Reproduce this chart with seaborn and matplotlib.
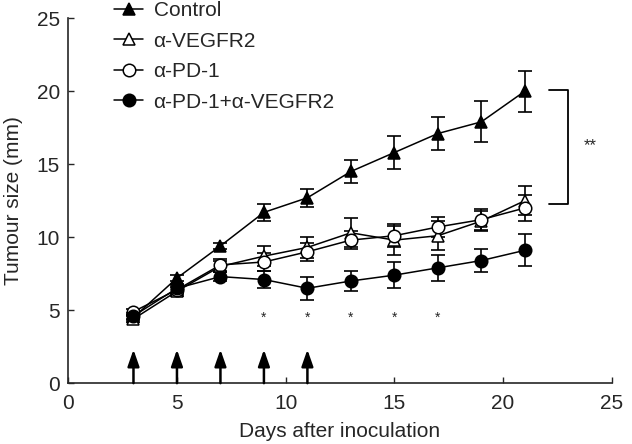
import matplotlib
matplotlib.use("Agg")
import matplotlib.pyplot as plt
import seaborn as sns
import numpy as np

days = [3, 5, 7, 9, 11, 13, 15, 17, 19, 21]
control = [4.5, 7.2, 9.4, 11.7, 12.7, 14.5, 15.8, 17.1, 17.9, 20.0]
control_err = [0.2, 0.2, 0.2, 0.6, 0.6, 0.8, 1.1, 1.1, 1.4, 1.4]
vegfr2 = [4.4, 6.3, 8.0, 8.7, 9.3, 10.3, 9.8, 10.1, 11.1, 12.5]
vegfr2_err = [0.2, 0.3, 0.4, 0.7, 0.7, 1.0, 1.0, 1.0, 0.7, 1.0]
pd1 = [4.9, 6.4, 8.1, 8.3, 9.0, 9.8, 10.1, 10.7, 11.2, 12.0]
pd1_err = [0.2, 0.3, 0.4, 0.6, 0.6, 0.6, 0.8, 0.7, 0.7, 0.9]
combo = [4.6, 6.5, 7.3, 7.1, 6.5, 7.0, 7.4, 7.9, 8.4, 9.1]
combo_err = [0.2, 0.3, 0.3, 0.6, 0.8, 0.7, 0.9, 0.9, 0.8, 1.1]

arrow_days = [3, 5, 7, 9, 11]
star_days = [9, 11, 13, 15, 17]

sns.set_style("ticks")
plt.rcParams['font.family'] = ['Liberation Sans', 'DejaVu Sans']

fig = plt.figure(figsize=(6.32, 4.44), dpi=100)
ax = fig.add_axes([0.108, 0.137, 0.86, 0.822])

series = [
    ("Control", control, control_err, "^", "black"),
    ("α-VEGFR2", vegfr2, vegfr2_err, "^", "white"),
    ("α-PD-1", pd1, pd1_err, "o", "white"),
    ("α-PD-1+α-VEGFR2", combo, combo_err, "o", "black"),
]

for label, vals, err, mk, fc in series:
    ax.errorbar(days, vals, yerr=err, fmt="none", ecolor="black", elinewidth=1.2,
                capsize=5, capthick=1.2, zorder=2)
    sns.lineplot(x=days, y=vals, ax=ax, color="black", linewidth=1.1, marker=mk,
                 markersize=9 if mk == "o" else 8, markerfacecolor=fc,
                 markeredgecolor="black", markeredgewidth=1.1, label=label, zorder=3)

# treatment arrows
for d in arrow_days:
    ax.annotate("", xy=(d, 2.3), xytext=(d, 0),
                arrowprops=dict(arrowstyle="-|>,head_width=0.35,head_length=1.0",
                                mutation_scale=10, color="black", lw=1.8,
                                shrinkA=0, shrinkB=0))
for d in star_days:
    ax.text(d, 4.45, "*", ha="center", va="center", fontsize=10)

# significance bracket
ax.plot([22.1, 23.0, 23.0, 22.1], [20.1, 20.1, 12.3, 12.3], color="black", lw=1.3,
        clip_on=False)
ax.text(24.0, 16.3, "**", ha="center", va="center", fontsize=12)

ax.set_xlim(0, 25)
ax.set_ylim(0, 25)
ax.set_xticks([0, 5, 10, 15, 20, 25])
ax.set_yticks([0, 5, 10, 15, 20, 25])
ax.tick_params(direction="in", length=4, width=1, labelsize=15)
ax.tick_params(axis="x", pad=8)
ax.tick_params(axis="y", pad=6)
ax.set_xlabel("Days after inoculation", fontsize=15, labelpad=6)
ax.set_ylabel("Tumour size (mm)", fontsize=15, labelpad=10)
sns.despine(ax=ax)
for s in ["left", "bottom"]:
    ax.spines[s].set_linewidth(1.2)

ax.legend(loc="upper left", bbox_to_anchor=(0.065, 1.075), frameon=False,
          fontsize=15, handlelength=1.4, handletextpad=0.5, labelspacing=0.55,
          borderpad=0)

fig.savefig("out.png", dpi=100)
